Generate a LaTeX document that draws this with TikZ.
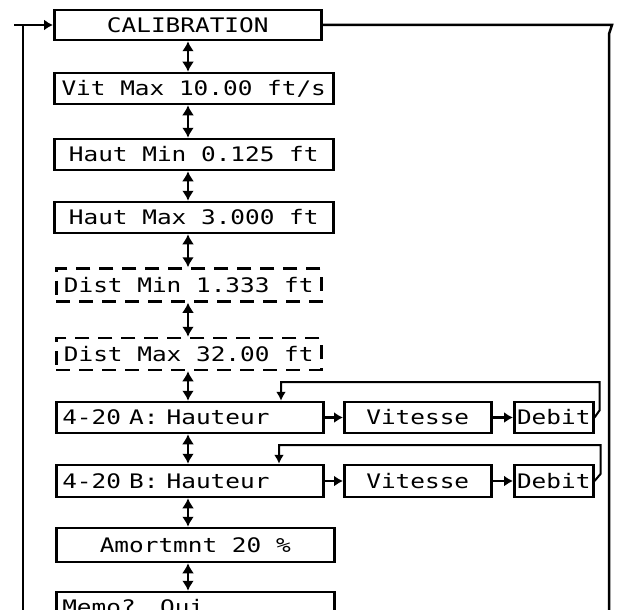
\documentclass[tikz,border=0pt]{standalone}
\usepackage{fontspec}
\usepackage{graphicx}
\newfontfamily\lcdfamily{DejaVu Sans Mono}
\usetikzlibrary{arrows.meta}
\newcommand{\lcdfont}{\lcdfamily\fontsize{20}{24}\selectfont}
\newcommand{\lcd}[1]{\scalebox{1.22}[1]{#1}}
\begin{document}
\begin{tikzpicture}[x=1pt,y=-1pt,
  box/.style={draw, line width=2.5pt, inner sep=0pt, anchor=west, font=\lcdfont,
    text height=14.5pt, text depth=0pt},
  dbox/.style={box, dash pattern=on 14pt off 9pt},
  lbox/.style={box, inner xsep=6pt, text width=#1, align=left},
  line/.style={line width=2.5pt},
  dbl/.style={line width=2.5pt, {Latex[length=10pt,width=12pt]}-{Latex[length=10pt,width=12pt]}},
  arr/.style={line width=2.5pt, -{Latex[length=9pt,width=11pt]}},
  fb/.style={line width=2pt, -{Latex[length=9pt,width=10pt]}}]
\useasboundingbox (0,0) rectangle (621,610);
\clip (0,0) rectangle (621,610);

% main column
\node[box, minimum width=267pt, minimum height=30pt] (cal) at (53,25) {\lcd{CALIBRATION}};
\node[box, minimum width=279pt, minimum height=31pt] (vmax) at (53,88.5) {\lcd{Vit Max 10.00 ft/s}};
\node[box, minimum width=279pt, minimum height=31pt] (hmin) at (53,154.5) {\lcd{Haut Min 0.125 ft}};
\node[box, minimum width=279pt, minimum height=31pt] (hmax) at (53,217.5) {\lcd{Haut Max 3.000 ft}};
\node[dbox, minimum width=265pt, minimum height=33pt] (dmin) at (55,285) {\lcd{Dist Min 1.333 ft}};
\node[dbox, minimum width=265pt, minimum height=32pt] (dmax) at (55,354) {\lcd{Dist Max 32.00 ft}};
\node[lbox=255pt, minimum height=31pt] (ha) at (55,417.5) {\lcd{4-20 A: Hauteur}};
\node[lbox=255pt, minimum height=32pt] (hb) at (55,481) {\lcd{4-20 B: Hauteur}};
\node[box, minimum width=278pt, minimum height=34pt] (amo) at (55,545) {\lcd{Amortmnt 20 \%}};
\node[lbox=266pt, minimum height=30pt] (memo) at (55,607) {\lcd{Memo?\hspace{20pt}Oui}};

% side boxes
\node[box, minimum width=147pt, minimum height=31pt] (va) at (343,417.5) {\lcd{Vitesse}};
\node[box, minimum width=79pt, minimum height=31pt] (da) at (513,417.5) {\lcd{Debit}};
\node[box, minimum width=147pt, minimum height=32pt] (vb) at (343,481) {\lcd{Vitesse}};
\node[box, minimum width=79pt, minimum height=32pt] (db) at (513,481) {\lcd{Debit}};

% vertical double arrows
\coordinate (ax) at (188,0);
\foreach \a/\b in {cal/vmax, vmax/hmin, hmin/hmax, hmax/dmin, dmin/dmax, dmax/ha, ha/hb, hb/amo, amo/memo}
  \draw[dbl] (\a.south -| ax) -- (\b.north -| ax);

% horizontal arrows
\draw[arr] (ha) -- (va);
\draw[arr] (va) -- (da);
\draw[arr] (hb) -- (vb);
\draw[arr] (vb) -- (db);

% feedback loops
\coordinate (ca) at (281,382);
\coordinate (cb) at (279,445);
\draw[fb] (da.east) -- ++(5,-7) |- (ca) -- (ca |- ha.north);
\draw[fb] (db.east) -- ++(6,-7) |- (cb) -- (cb |- hb.north);

% outer loop
\coordinate (lstub) at (14,25);
\coordinate (ltop) at (23,25);
\coordinate (lbot) at (23,612);
\coordinate (rtop) at (612,25);
\coordinate (rmid) at (609,34);
\coordinate (rbot) at (609,612);
\draw[line] (lbot) -- (ltop);
\draw[arr] (lstub) -- (cal.west);
\draw[line] (cal.east) -- (rtop) -- (rmid) -- (rbot);
\end{tikzpicture}
\end{document}
